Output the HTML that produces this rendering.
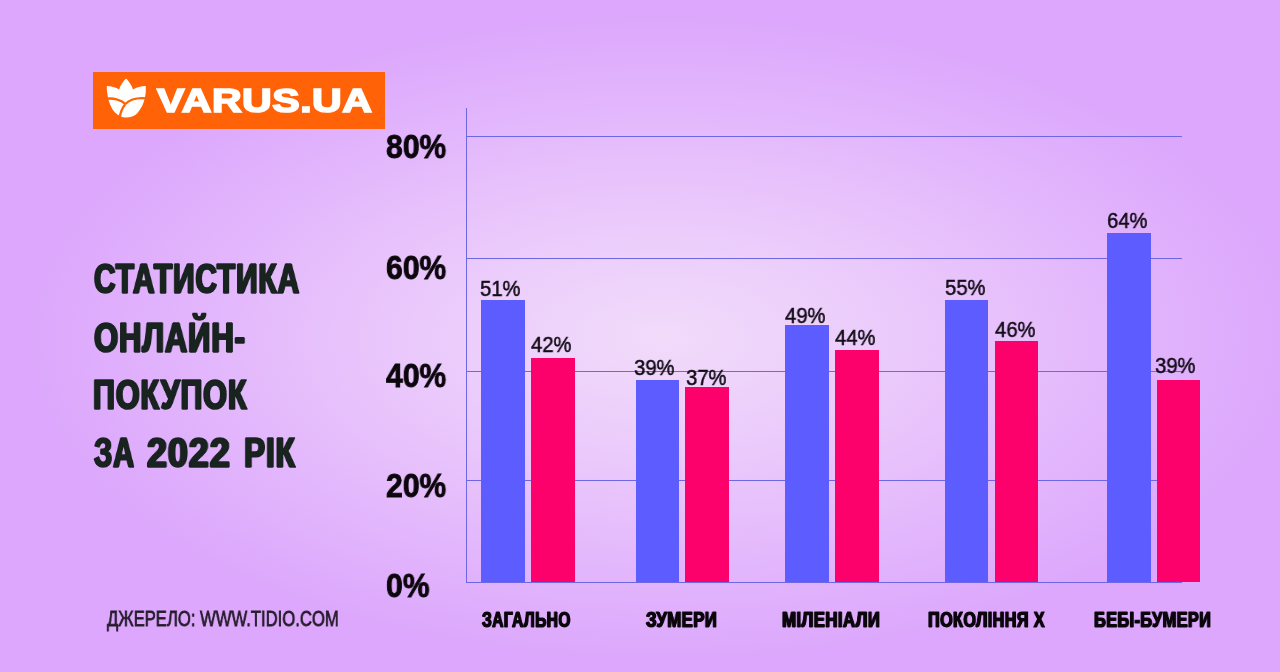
<!DOCTYPE html>
<html lang="uk">
<head>
<meta charset="utf-8">
<title>Статистика онлайн-покупок за 2022 рік</title>
<style>
html,body{margin:0;padding:0;}
body{width:1280px;height:672px;overflow:hidden;position:relative;
  font-family:"Liberation Sans",sans-serif;
  background:#dda8fc;}
#bg{position:absolute;left:0;top:0;width:1280px;height:672px;
  background:radial-gradient(ellipse 640px 325px at 662px 338px,#f1dbfa 0%,#ebcbfb 35%,#e3b7fc 70%,#dca7fc 100%);}
.t{position:absolute;white-space:nowrap;line-height:1;transform-origin:0 0;display:block;will-change:transform;}
/* logo */
#logo{position:absolute;left:93px;top:71.6px;width:292px;height:57px;background:#ff6207;}
#logotxt{left:157.4px;top:84.3px;font-weight:bold;font-size:33px;color:#fff;transform:scaleX(1.244);letter-spacing:0.4px;-webkit-text-stroke:1.7px #fff;}
/* title */
.title{font-weight:bold;font-size:42px;color:#19231f;-webkit-text-stroke:1.6px #19231f;text-shadow:0.8px 0 0 #19231f,-0.8px 0 0 #19231f,1.5px 0 0 #19231f,-1.5px 0 0 #19231f;letter-spacing:1.2px;}
/* axis labels */
.yl{font-weight:bold;font-size:34px;color:#0c070d;transform:scaleX(0.885);-webkit-text-stroke:0.9px #0c070d;left:385.9px;}
.vl{font-size:22.8px;color:#120c16;transform:scaleX(0.89);-webkit-text-stroke:0.5px #120c16;}
.cl{font-weight:bold;font-size:21.8px;color:#0c070d;-webkit-text-stroke:1px #0c070d;text-shadow:0.9px 0 0 #0c070d,-0.9px 0 0 #0c070d;letter-spacing:0.5px;top:608.9px;}
#src{left:106.9px;top:608px;font-size:22.2px;color:#261d2c;transform:scaleX(0.75);-webkit-text-stroke:0.8px #261d2c;}
.gl{position:absolute;left:466px;width:715.5px;height:1.3px;background:#6f66e6;}
#yax{position:absolute;left:466px;top:107.5px;width:1.4px;height:475.5px;background:#6f66e6;}
.bar{position:absolute;}
.b{background:#5d5cff;}
.p{background:#fc006c;}
</style>
</head>
<body>
<div id="bg"></div>

<div id="logo"></div>
<svg style="position:absolute;left:0;top:0" width="400" height="140" viewBox="0 0 400 140">
  <path fill="#fff" d="M126.1 78.6 C128.5 81,131.5 85,133 89.4 C136.5 87.5,141 86.3,145.7 86.1 C146.1 90,145.7 95,144.6 99 C143.5 103.5,141.3 108.8,137.1 113.4 C134.3 116,130.5 117.4,126 117.5 C122 117.5,118.6 116.3,115 112.6 C112 109.4,109.8 104.5,108.5 99.7 C107.4 95,106.6 90,106.8 86.1 C111 86.3,116 87.5,119.1 89.4 C120.5 85,123.5 81,126.1 78.6 Z"/>
  <g fill="none" stroke="#ff6207" stroke-width="2.3" stroke-linecap="butt">
    <path d="M105.5 98.9 C113 97.6,121 99.5,125.4 104"/>
    <path d="M125.4 104 C130 99.5,138 97.5,147 98.5"/>
    <path d="M125.4 104 C122.5 107.5,120.5 112,119.6 118"/>
  </g>
</svg>
<div class="t" id="logotxt">VARUS.UA</div>

<div class="t title" style="left:93.8px;top:258.4px;transform:scaleX(0.7115)">СТАТИСТИКА</div>
<div class="t title" style="left:93.8px;top:316.6px;transform:scaleX(0.738)">ОНЛАЙН-</div>
<div class="t title" style="left:93.4px;top:373.6px;transform:scaleX(0.726)">ПОКУПОК</div>
<div class="t title" style="left:93.9px;top:431.6px;transform:scaleX(0.693)">ЗА</div>
<div class="t title" style="left:147.1px;top:431.6px;transform:scaleX(0.852)">2022</div>
<div class="t title" style="left:244.2px;top:431.6px;transform:scaleX(0.752)">РІК</div>

<div class="t" id="src">ДЖЕРЕЛО: WWW.TIDIO.COM</div>

<!-- grid -->
<div class="gl" style="top:135.7px"></div>
<div class="gl" style="top:257.9px"></div>
<div class="gl" style="top:370.7px"></div>
<div class="gl" style="top:480px"></div>
<div class="gl" style="top:581.8px"></div>
<div id="yax"></div>

<div class="t yl" style="top:129.4px">80%</div>
<div class="t yl" style="top:249.6px">60%</div>
<div class="t yl" style="top:357.9px">40%</div>
<div class="t yl" style="top:468.3px">20%</div>
<div class="t yl" style="top:567.9px">0%</div>

<!-- bars -->
<div class="bar b" style="left:481px;top:300px;width:44px;height:282px"></div>
<div class="bar p" style="left:531px;top:358px;width:44px;height:224px"></div>
<div class="bar b" style="left:636px;top:380px;width:43px;height:202px"></div>
<div class="bar p" style="left:685px;top:387px;width:44px;height:195px"></div>
<div class="bar b" style="left:785px;top:325px;width:44px;height:257px"></div>
<div class="bar p" style="left:835px;top:350px;width:44px;height:232px"></div>
<div class="bar b" style="left:945px;top:300px;width:43px;height:282px"></div>
<div class="bar p" style="left:995px;top:341px;width:43px;height:241px"></div>
<div class="bar b" style="left:1107px;top:233px;width:44px;height:349px"></div>
<div class="bar p" style="left:1157px;top:380px;width:43px;height:202px"></div>

<!-- value labels -->
<div class="t vl" style="left:480.0px;top:276.8px">51%</div>
<div class="t vl" style="left:531.0px;top:333.4px">42%</div>
<div class="t vl" style="left:634.0px;top:356.4px">39%</div>
<div class="t vl" style="left:686.0px;top:366.4px">37%</div>
<div class="t vl" style="left:785.0px;top:303.8px">49%</div>
<div class="t vl" style="left:835.0px;top:326.1px">44%</div>
<div class="t vl" style="left:945.0px;top:276.0px">55%</div>
<div class="t vl" style="left:995.0px;top:318.3px">46%</div>
<div class="t vl" style="left:1107.0px;top:209.4px">64%</div>
<div class="t vl" style="left:1155.0px;top:353.8px">39%</div>

<!-- category labels -->
<div class="t cl" style="left:481.9px;transform:scaleX(0.7158)">ЗАГАЛЬНО</div>
<div class="t cl" style="left:646px;transform:scaleX(0.7717)">ЗУМЕРИ</div>
<div class="t cl" style="left:782.4px;transform:scaleX(0.772)">МІЛЕНІАЛИ</div>
<div class="t cl" style="left:928.1px;transform:scaleX(0.745)">ПОКОЛІННЯ Х</div>
<div class="t cl" style="left:1093.8px;transform:scaleX(0.7503)">БЕБІ-БУМЕРИ</div>
</body>
</html>
